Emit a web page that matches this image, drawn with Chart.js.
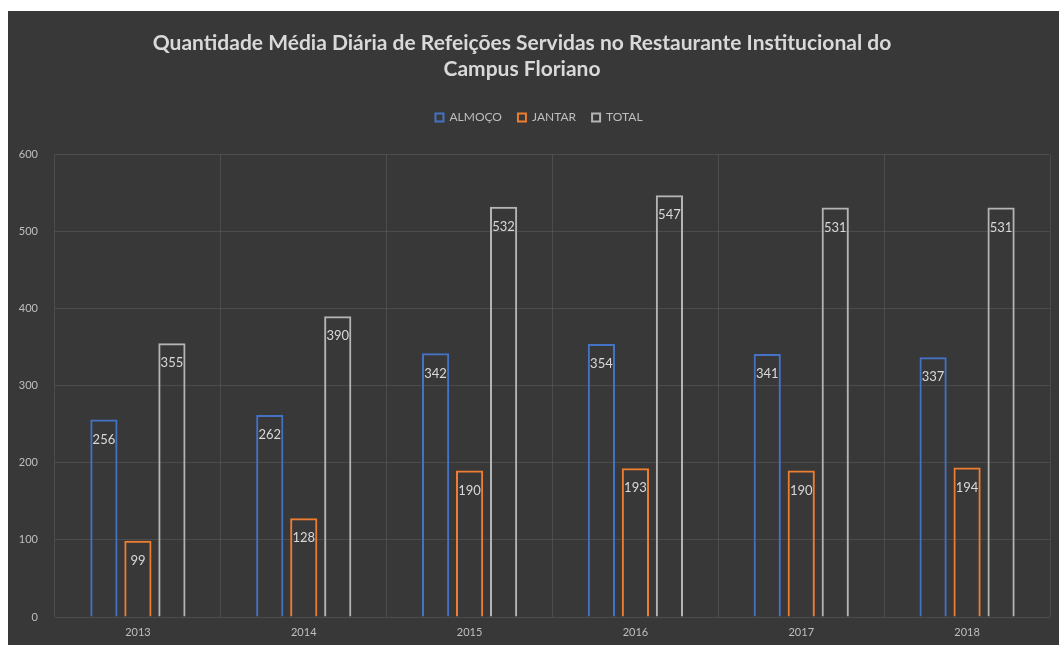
<!DOCTYPE html>
<html>
<head>
<meta charset="utf-8">
<script src="https://cdn.jsdelivr.net/npm/chart.js@4.4.1/dist/chart.umd.min.js"></script>
<style>
  html, body { margin: 0; padding: 0; background: #ffffff; }
  #wrap {
    position: absolute; left: 8px; top: 11px;
    width: 1051px; height: 634px;
    background: #383838;
  }
</style>
</head>
<body>
<div id="wrap"><canvas id="chart" width="1051" height="634"></canvas></div>
<script>
const anos = ['2013', '2014', '2015', '2016', '2017', '2018'];
const almoco = [256, 262, 342, 354, 341, 337];
const jantar = [99, 128, 190, 193, 190, 194];
const total = [355, 390, 532, 547, 531, 531];
const yTicks = [0, 100, 200, 300, 400, 500, 600];

const titulo = [
  'Quantidade Média Diária de Refeições Servidas no Restaurante Institucional do',
  'Campus Floriano'
];

// values printed just under the top of each bar
const valueLabels = {
  id: 'valueLabels',
  afterDatasetsDraw(chart) {
    const ctx = chart.ctx;
    ctx.save();
    ctx.font = '13px Lato';
    ctx.fillStyle = '#d9d9d9';
    ctx.textAlign = 'center';
    ctx.textBaseline = 'middle';
    chart.data.datasets.forEach((ds, i) => {
      chart.getDatasetMeta(i).data.forEach((bar, j) => {
        ctx.fillText(ds.data[j], bar.x, bar.y + 20);
      });
    });
    ctx.restore();
  }
};

// extra room between legend and plot, title/legend nudged sideways
const layoutTweaks = {
  id: 'layoutTweaks',
  beforeInit(chart) {
    const fit = chart.legend.fit;
    chart.legend.fit = function () {
      fit.bind(chart.legend)();
      this.height += 21;
    };
  },
  afterLayout(chart) {
    chart.titleBlock.left -= 7;
    chart.titleBlock.right -= 7;
    chart.legend.left += 10;
    chart.legend.right += 10;
  }
};

Chart.defaults.color = '#bfbfbf';
Chart.defaults.font.family = 'Lato';

const ctx = document.getElementById('chart').getContext('2d');
new Chart(ctx, {
  type: 'bar',
  data: {
    labels: anos,
    datasets: [
      { label: 'ALMOÇO', data: almoco, borderColor: '#4472C4', backgroundColor: 'rgba(0,0,0,0)', borderWidth: 2 },
      { label: 'JANTAR', data: jantar, borderColor: '#ED7D31', backgroundColor: 'rgba(0,0,0,0)', borderWidth: 2 },
      { label: 'TOTAL', data: total, borderColor: '#B4B4B4', backgroundColor: 'rgba(0,0,0,0)', borderWidth: 2 }
    ]
  },
  options: {
    responsive: false,
    animation: false,
    layout: { padding: { left: 0, right: 9, top: 0, bottom: 0 } },
    datasets: {
      bar: { categoryPercentage: 0.615, barPercentage: 0.8 }
    },
    plugins: {
      tooltip: { enabled: false },
      title: {
        display: true,
        text: titulo,
        color: '#d9d9d9',
        font: { size: 21, weight: 'bold', lineHeight: 1.2 },
        padding: { top: 20, bottom: 14 }
      },
      legend: {
        display: true,
        position: 'top',
        labels: {
          boxWidth: 8,
          boxHeight: 8,
          padding: 16,
          color: '#bfbfbf',
          font: { size: 12 }
        }
      }
    },
    scales: {
      x: {
        grid: { color: 'rgba(255,255,255,0.1)', drawTicks: false },
        border: { display: false },
        ticks: { padding: 9, color: '#bfbfbf', font: { size: 11 } },
        afterFit(scale) { scale.height = 28; }
      },
      y: {
        min: 0,
        max: 600,
        afterBuildTicks(scale) { scale.ticks = yTicks.map(v => ({ value: v })); },
        grid: { color: 'rgba(255,255,255,0.1)', drawTicks: false },
        border: { display: false },
        ticks: { padding: 17, color: '#bfbfbf', font: { size: 11 } },
        afterFit(scale) { scale.width = 47; }
      }
    }
  },
  plugins: [layoutTweaks, valueLabels]
});
</script>
</body>
</html>
